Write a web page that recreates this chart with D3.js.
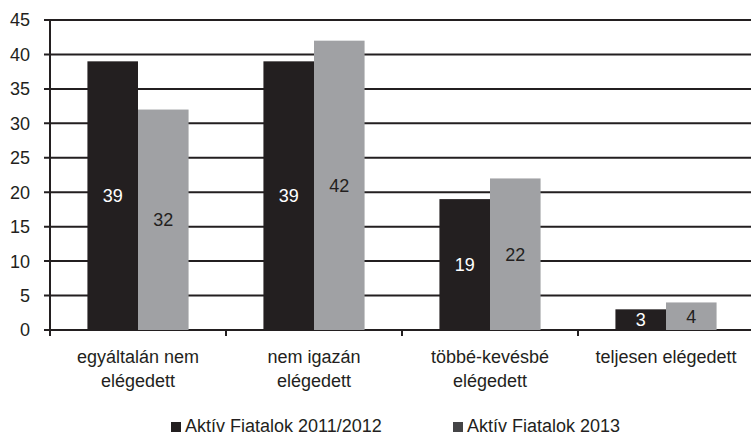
<!DOCTYPE html>
<meta charset="utf-8">
<script src="https://d3js.org/d3.v7.min.js"></script>
<style>
  body { margin: 0; background: #fff; }
  text { font-family: "Liberation Sans", Arial, sans-serif; }
</style>
<div id="my_dataviz"></div>
<script>
  // data
  var categories = ["egyáltalán nem\nelégedett", "nem igazán\nelégedett", "többé-kevésbé\nelégedett", "teljesen elégedett"]
  var series = ["Aktív Fiatalok 2011/2012", "Aktív Fiatalok 2013"]
  var values2011 = [39, 39, 19, 3]
  var values2013 = [32, 42, 22, 4]
  var yTicks = [0, 5, 10, 15, 20, 25, 30, 35, 40, 45]

  var width = 751, height = 436
  var margin = {top: 20, right: -3, bottom: 106, left: 50}

  var barColors = ["#231f20", "#a0a1a4"]
  var legendColors = ["#231f20", "#444446"]
  var labelColors = ["#ffffff", "#231f20"]

  var svg = d3.select("#my_dataviz")
    .append("svg")
    .attr("width", width)
    .attr("height", height)

  var x = d3.scaleBand()
    .domain(d3.range(categories.length))
    .range([margin.left, width - margin.right])
    .paddingInner(0)
    .paddingOuter(0)

  var inner = d3.scaleBand()
    .domain([0, 1])
    .range([0, x.bandwidth()])
    .paddingOuter(0.74)
    .paddingInner(0)

  var y = d3.scaleLinear()
    .domain([0, 45])
    .range([height - margin.bottom, margin.top])

  // gridlines
  svg.append("g")
    .selectAll("line")
    .data(yTicks)
    .enter()
    .append("line")
    .attr("x1", margin.left - 6)
    .attr("x2", width)
    .attr("y1", function(d) { return y(d) })
    .attr("y2", function(d) { return y(d) })
    .attr("stroke", "#231f20")
    .attr("stroke-width", 2)

  // y axis labels
  svg.append("g")
    .selectAll("text")
    .data(yTicks)
    .enter()
    .append("text")
    .attr("x", margin.left - 20)
    .attr("y", function(d) { return y(d) })
    .attr("dy", "0.36em")
    .attr("text-anchor", "end")
    .style("font-size", "18px")
    .attr("fill", "#231f20")
    .text(function(d) { return d })

  // bars
  var data = categories.map(function(c, i) {
    return [values2011[i], values2013[i]]
  })

  var groups = svg.append("g")
    .selectAll("g")
    .data(data)
    .enter()
    .append("g")
    .attr("transform", function(d, i) { return "translate(" + x(i) + ",0)" })

  groups.selectAll("rect")
    .data(function(d) { return d })
    .enter()
    .append("rect")
    .attr("x", function(d, j) { return inner(j) })
    .attr("width", inner.bandwidth())
    .attr("y", function(d) { return y(d) })
    .attr("height", function(d) { return y(0) - y(d) })
    .attr("fill", function(d, j) { return barColors[j] })

  groups.selectAll("text")
    .data(function(d) { return d })
    .enter()
    .append("text")
    .attr("x", function(d, j) { return inner(j) + inner.bandwidth() / 2 })
    .attr("y", function(d) { return (y(d) + y(0)) / 2 })
    .attr("dy", "0.36em")
    .attr("text-anchor", "middle")
    .style("font-size", "18px")
    .attr("fill", function(d, j) { return labelColors[j] })
    .text(function(d) { return d })

  // axes lines
  svg.append("line")
    .attr("x1", margin.left)
    .attr("x2", margin.left)
    .attr("y1", y(45))
    .attr("y2", y(0) + 6)
    .attr("stroke", "#231f20")
    .attr("stroke-width", 2)

  svg.append("g")
    .selectAll("line")
    .data(d3.range(categories.length))
    .enter()
    .append("line")
    .attr("x1", function(d) { return x(d) })
    .attr("x2", function(d) { return x(d) })
    .attr("y1", y(0))
    .attr("y2", y(0) + 6)
    .attr("stroke", "#231f20")
    .attr("stroke-width", 2)

  // category labels
  var catLabels = svg.append("g")
    .selectAll("text")
    .data(categories)
    .enter()
    .append("text")
    .attr("x", function(d, i) { return x(i) + x.bandwidth() / 2 })
    .attr("y", y(0) + 33)
    .attr("text-anchor", "middle")
    .style("font-size", "18px")
    .attr("fill", "#231f20")

  catLabels.selectAll("tspan")
    .data(function(d) { return d.split("\n") })
    .enter()
    .append("tspan")
    .attr("x", function() { return d3.select(this.parentNode).attr("x") })
    .attr("dy", function(d, k) { return k === 0 ? 0 : 24 })
    .text(function(d) { return d })

  // legend
  var legendX = [171, 453]
  var legend = svg.append("g")
    .selectAll("g")
    .data(series)
    .enter()
    .append("g")
    .attr("transform", function(d, i) { return "translate(" + legendX[i] + ",422)" })

  legend.append("rect")
    .attr("width", 10)
    .attr("height", 10)
    .attr("fill", function(d, i) { return legendColors[i] })

  legend.append("text")
    .attr("x", 14)
    .attr("y", 10)
    .style("font-size", "18px")
    .attr("fill", "#231f20")
    .text(function(d) { return d })
</script>
